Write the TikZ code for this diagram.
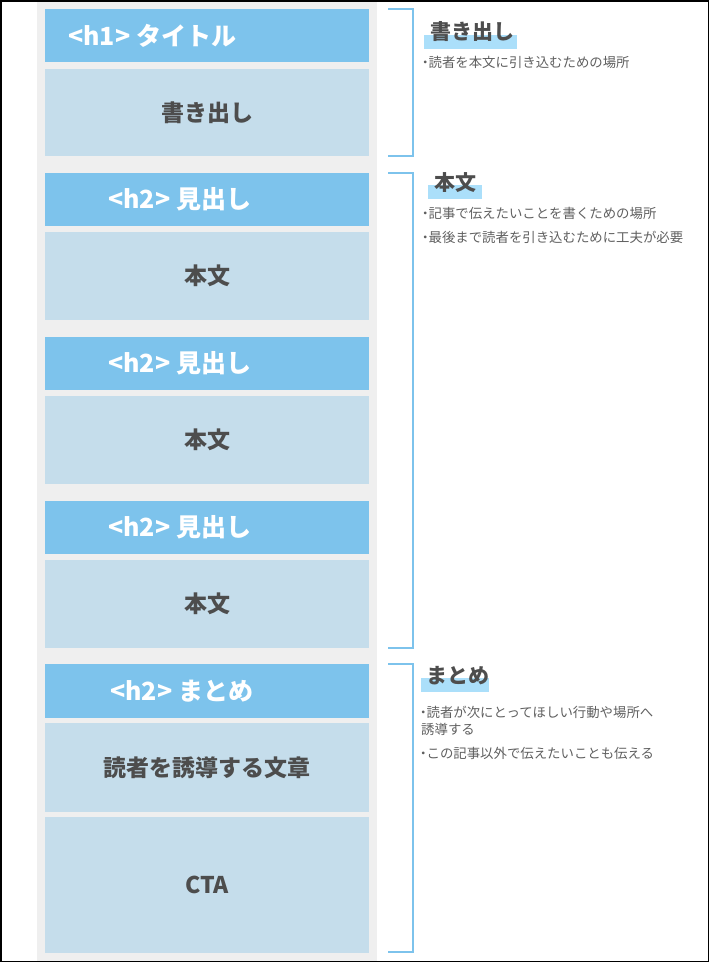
\documentclass[tikz,border=0pt]{standalone}
\usepackage{fontspec}
\setmainfont{Noto Sans CJK JP}
\usetikzlibrary{positioning}
\definecolor{hblue}{HTML}{7DC3EC}
\definecolor{bblue}{HTML}{C5DDEB}
\definecolor{colgray}{HTML}{EFEFEF}
\definecolor{tgray}{HTML}{4D4D4D}
\definecolor{hlblue}{HTML}{ABDFFA}
\newcommand{\dotitem}{\kern-4.5pt・\kern-3.5pt}
\tikzset{
  page/.style={x=1pt,y=-1pt},
  headbox/.style={fill=hblue,anchor=north west,inner sep=0pt,minimum width=324pt,minimum height=53pt},
  bodybox/.style={fill=bblue,anchor=north west,inner sep=0pt,minimum width=324pt,text=tgray,font=\bfseries\fontsize{23}{26}\selectfont},
  headtxt/.style={anchor=west,inner sep=0pt,text=white,font=\bfseries\fontsize{25}{28}\selectfont},
  sectitle/.style={anchor=west,inner sep=0pt,text=tgray,font=\bfseries\fontsize{21}{24}\selectfont},
  note/.style={anchor=west,inner sep=0pt,align=left,text=tgray!90,font=\fontsize{13.4}{17}\selectfont},
  brace/.style={hblue,line width=1.2pt}
}
\begin{document}
\begin{tikzpicture}[page]
  \useasboundingbox (0,0) rectangle (710,962);
  % page column
  \fill[colgray] (37,0) rectangle (377,962);
  % blocks
  \node[headbox] (h1) at (45,9) {};
  \node[headtxt] (h1t) at (68,35.5) {<h1> タイトル};
  \node[bodybox,minimum height=87pt] (lead) at (45,69) {書き出し};
  \node[headbox] (h2a) at (45,173) {};
  \node[headtxt] (h2at) at (108,199.5) {<h2> 見出し};
  \node[bodybox,minimum height=88pt] (body1) at (45,232) {本文};
  \node[headbox] (h2b) at (45,337) {};
  \node[headtxt] (h2bt) at (108,363.5) {<h2> 見出し};
  \node[bodybox,minimum height=88pt] (body2) at (45,396) {本文};
  \node[headbox] (h2c) at (45,501) {};
  \node[headtxt] (h2ct) at (108,527.5) {<h2> 見出し};
  \node[bodybox,minimum height=88pt] (body3) at (45,560) {本文};
  \node[headbox,minimum height=54pt] (h2d) at (45,664) {};
  \node[headtxt] (h2dt) at (110,691) {<h2> まとめ};
  \node[bodybox,minimum height=89pt] (guide) at (45,723) {読者を誘導する文章};
  \node[bodybox,minimum height=136pt] (cta) at (45,817) {CTA};
  % brackets
  \coordinate (b1s) at (388,9);   \coordinate (b1e) at (388,156);
  \coordinate (b2s) at (388,173); \coordinate (b2e) at (388,648);
  \coordinate (b3s) at (388,664); \coordinate (b3e) at (388,952);
  \draw[brace] (b1s) -- ++(25,0) |- (b1e);
  \draw[brace] (b2s) -- ++(25,0) |- (b2e);
  \draw[brace] (b3s) -- ++(25,0) |- (b3e);
  % section notes
  \fill[hlblue] (424,35) rectangle (517,49);
  \node[sectitle] (s1) at (430,32) {書き出し};
  \node[note] (n1) at (423,62) {\dotitem 読者を本文に引き込むための場所};
  \fill[hlblue] (428,185) rectangle (482,199);
  \node[sectitle] (s2) at (434,183) {本文};
  \node[note] (n2) at (423,213) {\dotitem 記事で伝えたいことを書くための場所};
  \node[note] (n3) at (423,237) {\dotitem 最後まで読者を引き込むために工夫が必要};
  \fill[hlblue] (421,678) rectangle (489,692);
  \node[sectitle] (s3) at (426,676) {まとめ};
  \node[note] (n4) at (421,720.5) {\dotitem 読者が次にとってほしい行動や場所へ\\誘導する};
  \node[note] (n5) at (421,753) {\dotitem この記事以外で伝えたいことも伝える};
  % frame
  \draw[black,line width=1.5pt] (0.75,0.75) rectangle (708.5,961.25);
\end{tikzpicture}
\end{document}
